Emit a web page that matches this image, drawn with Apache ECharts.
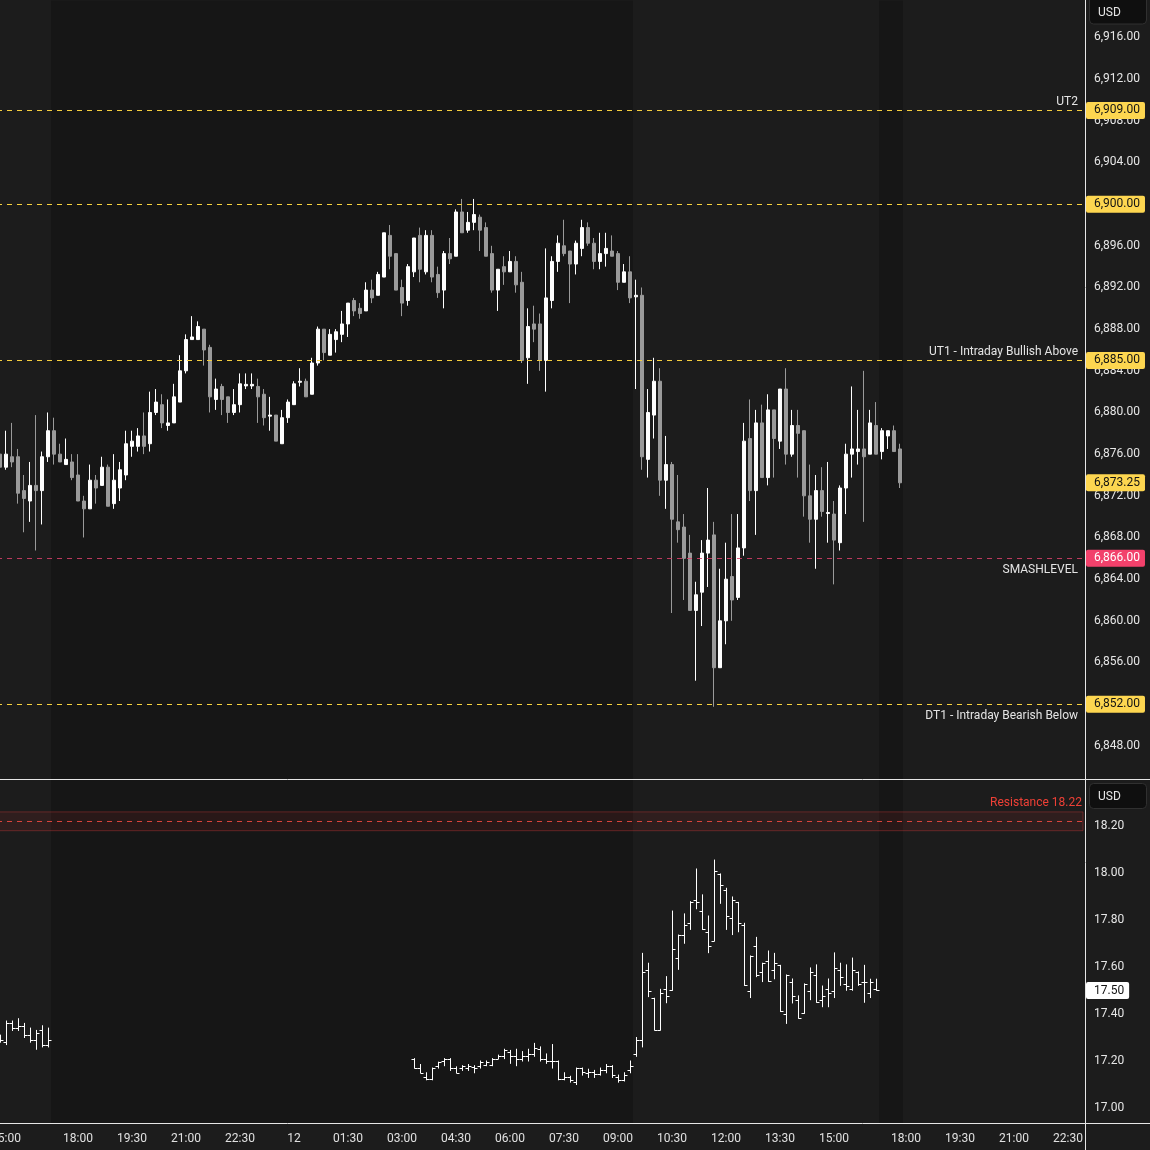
<!DOCTYPE html>
<html><head><meta charset="utf-8">
<script src="https://cdn.jsdelivr.net/npm/echarts@6/dist/echarts.min.js"></script>
<style>html,body{margin:0;padding:0;background:#1c1c1c;}#c{width:1150px;height:1150px;}</style>
</head><body><div id="c"></div><script>
// ---------- categories (10-minute slots) ----------
function pad(n){return (n<10?'0':'')+n;}
const categories=[];
function addSlots(day,startMin,count){for(let k=0;k<count;k++){let m=startMin+k*10;let d=day+Math.floor(m/1440);m%=1440;categories.push(d+' '+pad(Math.floor(m/60))+':'+pad(m%60));}}
addSlots(11,14*60+50,13);
addSlots(11,18*60,138);
addSlots(12,18*60,30);

const xTickLabels=['11 15:00','11 18:00','11 19:30','11 21:00','11 22:30','12 00:00','12 01:30','12 03:00','12 04:30','12 06:00','12 07:30','12 09:00','12 10:30','12 12:00','12 13:30','12 15:00','12 18:00','12 19:30','12 21:00','12 22:30'];

// ---------- ES 10-min candles: [open, close, low, high], starting at '11 14:50' ----------
const esOHLC=[
[6876.00,6874.75,6873.50,6877.75],[6874.75,6876.00,6874.50,6878.25],[6875.75,6875.25,6874.75,6879.00],[6875.75,6872.25,6871.25,6876.50],
[6872.50,6871.75,6868.50,6874.00],[6871.50,6873.00,6869.50,6875.25],[6873.00,6872.50,6866.75,6879.75],[6872.50,6875.75,6869.25,6876.25],
[6875.75,6878.25,6875.25,6880.00],[6878.25,6876.00,6875.00,6879.50],[6876.00,6875.25,6875.25,6877.00],[6875.00,6875.50,6875.00,6877.50],
[6875.25,6873.75,6873.50,6876.00],[6874.00,6871.50,6871.50,6876.00],[6871.50,6870.75,6868.00,6872.00],[6870.75,6873.50,6870.75,6875.00],
[6873.50,6872.75,6871.25,6874.00],[6873.00,6874.75,6873.00,6875.75],[6874.75,6871.00,6871.00,6875.00],[6871.25,6873.50,6870.75,6876.00],
[6872.75,6874.50,6871.50,6875.25],[6874.00,6877.00,6873.50,6878.25],[6876.75,6877.25,6875.75,6878.25],[6876.75,6877.75,6876.25,6878.50],
[6877.75,6876.75,6876.00,6880.00],[6877.00,6880.00,6876.25,6882.00],[6880.00,6881.00,6879.75,6882.25],[6880.75,6879.00,6878.50,6881.75],
[6878.75,6879.00,6878.25,6881.25],[6879.00,6881.50,6879.00,6882.75],[6881.00,6884.00,6881.00,6885.50],[6884.00,6887.00,6883.75,6887.50],
[6887.00,6887.25,6887.00,6889.25],[6887.00,6888.25,6887.00,6888.75],[6888.00,6886.00,6884.50,6888.00],[6886.25,6881.50,6880.00,6886.50],
[6881.25,6882.25,6880.25,6883.25],[6882.50,6881.25,6879.75,6882.75],[6881.50,6880.00,6879.00,6881.50],[6880.00,6880.75,6879.75,6882.25],
[6880.75,6882.75,6880.00,6883.75],[6882.55,6882.70,6882.25,6883.75],[6882.55,6882.70,6882.25,6883.75],[6882.50,6881.50,6879.00,6883.25],
[6881.75,6879.50,6878.75,6882.25],[6879.65,6879.75,6878.25,6881.50],[6879.75,6877.25,6877.25,6879.75],[6877.00,6879.50,6877.00,6880.25],
[6879.50,6881.00,6879.00,6881.25],[6880.75,6882.75,6880.75,6883.00],[6882.90,6883.00,6882.50,6884.25],[6883.00,6881.50,6881.50,6883.25],
[6881.75,6884.75,6881.75,6885.25],[6884.75,6888.00,6884.50,6888.25],[6888.00,6885.75,6885.00,6888.00],[6885.50,6887.50,6885.50,6888.00],
[6887.00,6887.75,6885.75,6888.00],[6887.50,6888.50,6886.75,6889.75],[6888.50,6890.50,6887.25,6890.50],[6890.75,6889.75,6889.25,6891.00],
[6890.00,6889.50,6889.00,6890.50],[6889.75,6891.75,6889.75,6892.50],[6891.75,6891.00,6890.50,6892.75],[6891.25,6893.25,6891.25,6893.50],
[6893.00,6897.25,6893.00,6897.25],[6897.00,6895.00,6893.75,6898.00],[6895.25,6891.75,6891.75,6895.25],[6892.00,6890.50,6889.25,6892.75],
[6890.75,6894.00,6890.25,6894.25],[6893.50,6896.75,6893.00,6896.75],[6897.00,6893.75,6892.50,6897.75],[6893.50,6897.00,6893.25,6897.50],
[6897.00,6893.00,6892.50,6897.50],[6893.25,6891.50,6891.00,6894.00],[6891.75,6895.25,6890.00,6895.50],[6895.25,6894.75,6894.25,6896.75],
[6895.00,6899.25,6895.00,6899.50],[6899.25,6897.25,6897.25,6900.50],[6897.50,6898.25,6897.25,6899.25],[6898.25,6899.00,6897.50,6900.50],
[6898.75,6897.50,6895.50,6899.00],[6897.75,6895.00,6895.00,6898.25],[6895.25,6891.75,6891.50,6896.00],[6891.75,6893.75,6889.75,6893.75],
[6894.00,6893.50,6892.25,6895.00],[6893.50,6894.50,6893.50,6895.50],[6894.50,6892.25,6891.50,6895.00],[6892.50,6885.00,6884.75,6893.50],
[6885.25,6888.25,6882.75,6890.00],[6888.50,6888.00,6886.75,6890.25],[6888.50,6885.00,6884.00,6889.50],[6885.00,6891.00,6882.00,6895.75],
[6890.75,6894.50,6890.00,6895.00],[6894.50,6896.25,6893.50,6897.00],[6896.00,6895.25,6895.00,6898.50],[6895.50,6894.25,6890.50,6895.50],
[6894.25,6896.25,6893.25,6896.50],[6895.75,6897.75,6895.00,6898.50],[6897.75,6896.25,6896.00,6898.25],[6896.25,6894.50,6893.75,6896.75],
[6894.50,6895.25,6893.75,6897.25],[6895.25,6895.75,6894.00,6897.25],[6895.50,6895.00,6895.00,6897.00],[6895.25,6892.50,6891.75,6895.50],
[6892.50,6893.50,6892.50,6894.25],[6893.50,6891.00,6890.50,6895.00],[6891.10,6891.25,6882.25,6892.75],[6891.25,6875.75,6874.50,6892.00],
[6875.50,6880.00,6873.75,6882.25],[6879.75,6883.00,6877.50,6885.25],[6883.00,6873.50,6872.00,6884.25],[6873.50,6875.00,6870.75,6877.75],
[6875.00,6869.75,6860.75,6875.25],[6869.50,6868.75,6867.50,6874.00],[6869.00,6866.00,6862.00,6870.25],[6866.50,6861.00,6861.00,6868.25],
[6861.00,6862.50,6854.25,6863.75],[6862.75,6866.50,6859.50,6867.75],[6866.50,6867.75,6863.25,6872.75],[6868.25,6855.50,6851.75,6869.50],
[6855.50,6860.00,6855.50,6865.00],[6860.00,6864.00,6857.75,6867.50],[6864.25,6862.00,6860.00,6870.25],[6862.25,6867.00,6862.00,6870.25],
[6867.00,6877.25,6866.25,6879.00],[6877.50,6872.50,6871.50,6881.25],[6872.50,6879.00,6868.25,6880.25],[6879.00,6873.75,6873.75,6880.75],
[6873.75,6880.25,6873.00,6881.75],[6880.25,6877.50,6873.75,6880.25],[6877.25,6882.25,6876.50,6882.25],[6882.25,6876.00,6875.00,6884.25],
[6876.00,6878.75,6875.75,6880.25],[6878.75,6878.00,6873.75,6880.25],[6878.25,6872.00,6870.00,6878.25],[6872.00,6869.75,6867.50,6875.00],
[6869.75,6872.50,6865.00,6874.00],[6872.50,6870.50,6870.00,6874.75],[6870.30,6870.40,6867.50,6875.25],[6870.25,6867.75,6863.50,6871.50],
[6867.50,6872.75,6866.75,6873.00],[6872.75,6876.00,6870.25,6877.00],[6876.00,6876.50,6873.75,6882.50],[6876.25,6876.50,6875.00,6880.25],
[6876.50,6875.75,6869.50,6884.00],[6876.00,6879.00,6876.00,6880.25],[6878.75,6876.00,6876.00,6881.00],[6876.25,6878.25,6875.50,6878.50],
[6877.75,6878.25,6876.50,6878.25],[6878.25,6876.25,6876.25,6878.75],[6876.50,6873.25,6872.75,6877.00]
];

// ---------- VIX 10-min bars: [open, close, low, high] ----------
const vixLeftStart='11 14:50';
const vixLeft=[
[17.30,17.29,17.28,17.31],[17.28,17.36,17.27,17.37],[17.36,17.34,17.33,17.37],[17.34,17.35,17.33,17.38],
[17.35,17.31,17.30,17.36],[17.31,17.29,17.28,17.34],[17.29,17.32,17.25,17.33],[17.33,17.27,17.26,17.35],[17.27,17.29,17.26,17.34]
];
const vixEthStart='12 03:20';
const vixEth=[
[17.21,17.17,17.17,17.21],[17.17,17.15,17.15,17.185],[17.13,17.125,17.12,17.15],[17.125,17.17,17.12,17.17],
[17.18,17.195,17.17,17.195],[17.20,17.21,17.18,17.21],[17.21,17.17,17.16,17.21],[17.17,17.15,17.15,17.175],
[17.17,17.18,17.16,17.18],[17.17,17.18,17.16,17.185],[17.175,17.17,17.15,17.18],[17.18,17.195,17.17,17.20],
[17.185,17.195,17.18,17.20],[17.185,17.21,17.18,17.21],[17.21,17.22,17.21,17.225],[17.22,17.245,17.21,17.25],
[17.24,17.22,17.19,17.245],[17.22,17.21,17.18,17.25],[17.21,17.22,17.20,17.24],[17.22,17.23,17.20,17.25],
[17.23,17.255,17.22,17.275],[17.25,17.21,17.20,17.26],[17.21,17.20,17.19,17.23],[17.20,17.20,17.17,17.27],
[17.20,17.125,17.12,17.20],[17.125,17.13,17.12,17.15],[17.13,17.12,17.11,17.135],[17.11,17.17,17.10,17.17],
[17.17,17.155,17.14,17.17],[17.15,17.155,17.13,17.165],[17.155,17.145,17.13,17.16],[17.145,17.16,17.14,17.17],
[17.16,17.18,17.15,17.185],[17.18,17.14,17.13,17.18],[17.13,17.12,17.11,17.14],[17.12,17.14,17.115,17.15],[17.16,17.18,17.15,17.20]
];
const vixRthStart='12 09:30';
const vixRth=[
[17.23,17.29,17.22,17.30],[17.29,17.577,17.26,17.658],[17.587,17.497,17.474,17.616],[17.467,17.332,17.332,17.467],
[17.332,17.488,17.332,17.505],[17.505,17.477,17.448,17.559],[17.501,17.675,17.501,17.838],[17.637,17.735,17.590,17.736],
[17.735,17.777,17.701,17.826],[17.786,17.875,17.760,17.878],[17.885,17.875,17.848,18.017],[17.837,17.760,17.760,17.907],
[17.749,17.688,17.661,17.817],[17.711,18.007,17.711,18.055],[17.996,17.949,17.871,17.996],[17.926,17.817,17.760,17.935],
[17.809,17.884,17.738,17.898],[17.875,17.787,17.750,17.875],[17.777,17.522,17.522,17.786],[17.497,17.646,17.470,17.647],
[17.688,17.565,17.559,17.726],[17.577,17.616,17.538,17.616],[17.624,17.539,17.539,17.668],[17.587,17.616,17.550,17.658],
[17.607,17.411,17.411,17.607],[17.399,17.565,17.360,17.566],[17.535,17.475,17.447,17.549],[17.458,17.382,17.382,17.477],
[17.403,17.526,17.403,17.528],[17.497,17.577,17.461,17.596],[17.566,17.450,17.450,17.609],[17.458,17.477,17.431,17.519],
[17.505,17.488,17.431,17.549],[17.497,17.594,17.470,17.660],[17.586,17.558,17.522,17.616],[17.526,17.518,17.501,17.609],
[17.505,17.586,17.501,17.638],[17.579,17.526,17.522,17.579],[17.535,17.535,17.450,17.607],[17.488,17.535,17.470,17.548],
[17.505,17.501,17.501,17.548]
];

// ---------- levels ----------
const yellowLevels=[
  {value:6909, name:'UT2', pos:'insideEndTop'},
  {value:6900, name:'', pos:'insideEndTop'},
  {value:6885, name:'UT1 - Intraday Bullish Above', pos:'insideEndTop'},
  {value:6852, name:'DT1 - Intraday Bearish Below', pos:'insideEndBottom'}
];
const pinkLevels=[{value:6866, name:'SMASHLEVEL', pos:'insideEndBottom'}];
const esTags=[
  {value:6909, text:'6,909.00', kind:'yellow'},
  {value:6900, text:'6,900.00', kind:'yellow'},
  {value:6885, text:'6,885.00', kind:'yellow'},
  {value:6873.25, text:'6,873.25', kind:'yellow'},
  {value:6866, text:'6,866.00', kind:'pink'},
  {value:6852, text:'6,852.00', kind:'yellow'}
];
const vixResistance={value:18.22, low:18.18, high:18.26, name:'Resistance 18.22'};
const vixTags=[{value:17.50, text:'17.50', kind:'white'}];

// ---------- build ----------
function withIndex(rows,start){const s=categories.indexOf(start);return rows.map((r,k)=>[s+k].concat(r));}
const vixData=withIndex(vixLeft,vixLeftStart).concat(withIndex(vixEth,vixEthStart),withIndex(vixRth,vixRthStart));
const ethBands=[
  [categories.indexOf('11 16:10')+0.5, categories.indexOf('12 09:30')-0.5],
  [categories.indexOf('12 16:10')+0.5, categories.indexOf('12 16:50')+0.5]
];
const N=categories.length;
const FONT='Roboto, "Noto Sans", sans-serif';
const BG='#1c1c1c', ETH='#161616';
const YEL_LINE='#f5cf3f', PINK='#d9406a';
const TAG_STYLE={yellow:['#fdd650','#131313'], pink:['#f2416b','#ffffff'], white:['#ffffff','#131313']};
const TOP_PANE=[6844.72, 6919.55], BOT_PANE=[16.9362, 18.3957];

function bandSeries(xi,yi,pane){
  return {type:'custom', xAxisIndex:xi, yAxisIndex:yi, z:0, silent:true,
    encode:{x:[0,1], y:[2,3]}, data:ethBands.map(b=>[b[0],b[1],pane[1],pane[0]]),
    renderItem:function(params,api){
      const p0=api.coord([api.value(0),api.value(2)]);
      const p1=api.coord([api.value(1),api.value(3)]);
      return {type:'rect', shape:{x:p0[0], y:p0[1], width:p1[0]-p0[0], height:p1[1]-p0[1]}, style:{fill:ETH}};
    }};
}
function tagSeries(xi,yi,tags){
  return {type:'custom', xAxisIndex:xi, yAxisIndex:yi, z:10, silent:true, clip:false,
    encode:{y:0}, data:tags.map(t=>[t.value]),
    renderItem:function(params,api){
      const t=tags[params.dataIndex];
      const y=api.coord([0,api.value(0)])[1];
      const cs=params.coordSys;
      const st=TAG_STYLE[t.kind];
      return {type:'text', x:cs.x+cs.width+3, y:y, style:{text:t.text, fill:st[1], backgroundColor:st[0],
        padding:[3,5,2,8], borderRadius:2, fontSize:12, fontFamily:FONT, verticalAlign:'middle', align:'left'}};
    }};
}
function levelSeries(xi,yi,levels,color,opacity){
  return {type:'line', xAxisIndex:xi, yAxisIndex:yi, data:[], clip:false, z:4, silent:true,
    markLine:{silent:true, symbol:['none','none'], animation:false,
      lineStyle:{color:color, type:[5,5], width:1, opacity:opacity},
      data:levels.map(l=>({yAxis:l.value,
        label:{show:!!l.name, position:l.pos, formatter:l.name, color:'#e4e4e4', fontSize:12, fontFamily:FONT, opacity:1,
          distance:(l.pos==='insideEndTop'?[5,2]:[5,6])}}))}};
}

const chart=echarts.init(document.getElementById('c'),null,{renderer:'canvas'});
const gridCommon={left:-3, right:67, containLabel:false, outerBoundsMode:'none'};
chart.setOption({
  backgroundColor:BG,
  animation:false,
  grid:[
    Object.assign({top:-4.2, height:791.7}, gridCommon),
    Object.assign({top:779, height:376}, gridCommon),
    Object.assign({top:1123, height:1}, gridCommon)
  ],
  xAxis:[
    {type:'category', gridIndex:0, data:categories, boundaryGap:true, show:false},
    {type:'value', gridIndex:0, min:-0.5, max:N-0.5, show:false},
    {type:'category', gridIndex:1, data:categories, boundaryGap:true, show:false},
    {type:'value', gridIndex:1, min:-0.5, max:N-0.5, show:false},
    {type:'category', gridIndex:2, data:categories, boundaryGap:true, position:'bottom',
      axisLine:{show:false}, axisTick:{show:false}, splitLine:{show:false},
      axisLabel:{interval:function(i,v){return xTickLabels.indexOf(v)>=0;}, margin:7, color:'#e0e0e0', fontSize:12, fontFamily:FONT,
        padding:[2,0,0,0],
        formatter:function(v){const p=v.split(' ');return p[1]==='00:00'?p[0]:p[1];}}}
  ],
  yAxis:[
    {type:'value', gridIndex:0, position:'right', min:6844, max:6920, interval:4,
      axisLine:{show:false}, axisTick:{show:false}, splitLine:{show:false},
      axisLabel:{margin:11, color:'#e6e6e6', fontSize:12, fontFamily:FONT, padding:[5,0,0,0],
        formatter:function(v){if(v<6848||v>6916)return '';return v.toLocaleString('en-US',{minimumFractionDigits:2,maximumFractionDigits:2});}}},
    {type:'value', gridIndex:1, position:'right', min:16.8, max:18.4, interval:0.2,
      axisLine:{show:false}, axisTick:{show:false}, splitLine:{show:false},
      axisLabel:{margin:11, color:'#e6e6e6', fontSize:12, fontFamily:FONT, padding:[5,0,0,0],
        formatter:function(v){if(v<16.99||v>18.21)return '';return v.toFixed(2);}}},
    {type:'value', gridIndex:2, show:false}
  ],
  series:[
    bandSeries(1,0,TOP_PANE),
    bandSeries(3,1,BOT_PANE),
    {type:'candlestick', xAxisIndex:0, yAxisIndex:0, data:esOHLC, barWidth:4, z:3,
      itemStyle:{color:'#ffffff', color0:'#9a9a9a', borderColor:'#ffffff', borderColor0:'#9a9a9a', borderWidth:1}},
    levelSeries(0,0,yellowLevels,YEL_LINE,1),
    levelSeries(0,0,pinkLevels,PINK,0.85),
    tagSeries(0,0,esTags),
    {type:'custom', xAxisIndex:2, yAxisIndex:1, data:vixData, z:3, encode:{x:0, y:[1,2,3,4]},
      renderItem:function(params,api){
        const x=api.value(0);
        const o=api.coord([x,api.value(1)]), c=api.coord([x,api.value(2)]);
        const l=api.coord([x,api.value(3)]), h=api.coord([x,api.value(4)]);
        const cx=Math.round(o[0])+0.5, t=3;
        const st={stroke:'#ffffff', lineWidth:1};
        return {type:'group', children:[
          {type:'line', shape:{x1:cx,y1:h[1]-0.5,x2:cx,y2:l[1]+0.5}, style:st},
          {type:'line', shape:{x1:cx-t,y1:Math.round(o[1])+0.5,x2:cx,y2:Math.round(o[1])+0.5}, style:st},
          {type:'line', shape:{x1:cx,y1:Math.round(c[1])+0.5,x2:cx+t,y2:Math.round(c[1])+0.5}, style:st}
        ]};
      }},
    {type:'line', xAxisIndex:2, yAxisIndex:1, data:[], clip:false, z:4, silent:true,
      markArea:{silent:true, itemStyle:{color:'rgba(220,50,50,0.10)', borderColor:'rgba(220,60,60,0.35)', borderWidth:1},
        data:[[{yAxis:vixResistance.low},{yAxis:vixResistance.high}]]},
      markLine:{silent:true, symbol:['none','none'], animation:false,
        lineStyle:{color:'#d9443c', type:[5,5], width:1},
        data:[{yAxis:vixResistance.value,
          label:{show:true, position:'insideEndTop', formatter:vixResistance.name, color:'#ee4036', fontSize:12, fontFamily:FONT, distance:[1,12]}}]}},
    tagSeries(2,1,vixTags)
  ],
  graphic:[
    {type:'line', z:100, silent:true, shape:{x1:1085.5,y1:0,x2:1085.5,y2:1150}, style:{stroke:'#e6e6e6', lineWidth:1}},
    {type:'line', z:100, silent:true, shape:{x1:0,y1:779.5,x2:1150,y2:779.5}, style:{stroke:'#e6e6e6', lineWidth:1}},
    {type:'line', z:100, silent:true, shape:{x1:0,y1:1123.5,x2:1150,y2:1123.5}, style:{stroke:'#e6e6e6', lineWidth:1}},
    {type:'rect', z:100, silent:true, shape:{x:1089.5,y:-4.5,width:57,height:28.5,r:4}, style:{fill:'#0f0f0f', stroke:'#303030', lineWidth:1}},
    {type:'text', z:101, silent:true, x:1098, y:12.5, style:{text:'USD', fill:'#e6e6e6', fontSize:12, fontFamily:FONT, verticalAlign:'middle'}},
    {type:'rect', z:100, silent:true, shape:{x:1089.5,y:783.5,width:57,height:25,r:4}, style:{fill:'#0f0f0f', stroke:'#303030', lineWidth:1}},
    {type:'text', z:101, silent:true, x:1098, y:796.5, style:{text:'USD', fill:'#e6e6e6', fontSize:12, fontFamily:FONT, verticalAlign:'middle'}}
  ]
});
</script></body></html>
